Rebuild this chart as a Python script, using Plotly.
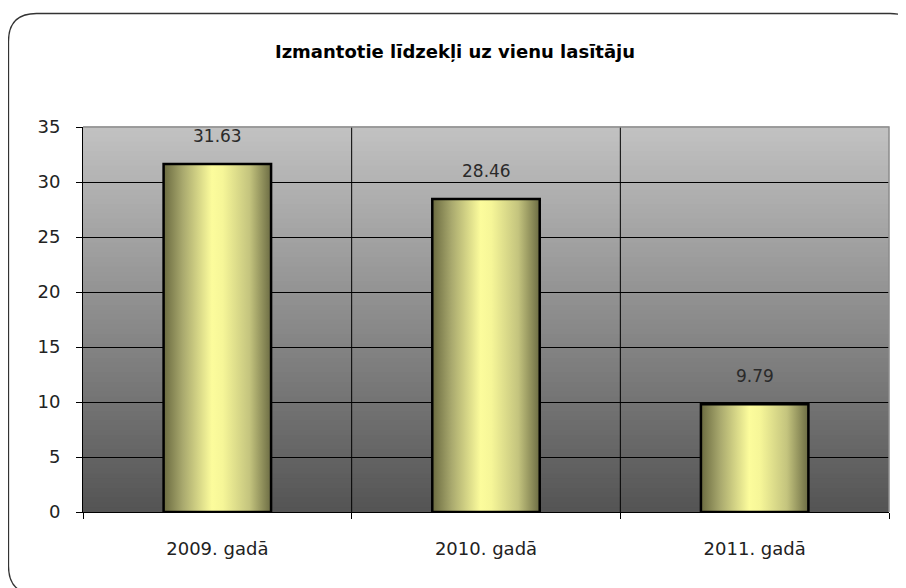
import plotly.graph_objects as go

categories = ["2009. gadā", "2010. gadā", "2011. gadā"]
values = [31.63, 28.46, 9.79]
value_labels = ["31.63", "28.46", "9.79"]
y_ticks = [0, 5, 10, 15, 20, 25, 30, 35]
title_text = "Izmantotie līdzekļi uz vienu lasītāju"

# page has an 8px body margin, so figure coords = page coords - 8
OFF = 8
W, H = 898, 580
L, R, T, B = 83 - OFF, 889 - OFF, 127 - OFF, 512 - OFF
FONT = "DejaVu Sans, Liberation Sans, Arial, sans-serif"
BAR_W = 0.4

def pxx(x):
    return (x - OFF - L) / (R - L)

def pxy(y):
    return (B - (y - OFF)) / (B - T)

fig = go.Figure()

bar_scale = [[0.0, "#6a6a40"], [0.18, "#a9a96e"], [0.45, "#fcfc9c"],
             [0.55, "#f6f698"], [0.8, "#c4c47e"], [1.0, "#6c6c44"]]

for i, v in enumerate(values):
    x0, x1 = i - BAR_W / 2, i + BAR_W / 2
    fig.add_trace(go.Scatter(
        x=[x0, x0, x1, x1, x0], y=[0, v, v, 0, 0],
        mode="lines", fill="toself",
        fillgradient=dict(type="horizontal", colorscale=bar_scale),
        line=dict(color="black", width=2.5),
        hoverinfo="skip", showlegend=False,
    ))

for i, (v, lab) in enumerate(zip(values, value_labels)):
    fig.add_annotation(x=i, y=v, text=lab, showarrow=False, yanchor="bottom",
                       yshift=16, font=dict(family=FONT, size=17, color="#2a2a2a"))

shapes = []
# plot-area gradient background (light gray top -> dark gray bottom)
n = 80
top_c, bot_c = (194, 194, 194), (84, 84, 84)
for k in range(n):
    f = (k + 0.5) / n
    c = tuple(int(round(bot_c[j] + (top_c[j] - bot_c[j]) * f)) for j in range(3))
    shapes.append(dict(type="rect", xref="x domain", yref="y domain",
                       x0=0, x1=1, y0=k / n, y1=(k + 1) / n + 0.002,
                       fillcolor="rgb(%d,%d,%d)" % c, line=dict(width=0), layer="below"))

# vertical separators between categories
for xb in [0.5, 1.5]:
    shapes.append(dict(type="line", xref="x", yref="y domain", x0=xb, x1=xb, y0=0, y1=1,
                       line=dict(color="black", width=1), layer="below"))

# gray top / right edge of plot area
shapes.append(dict(type="path", xref="paper", yref="paper", path="M 0,1 L 1,1 L 1,0",
                   line=dict(color="#8c8c8c", width=1.5), layer="above"))

# rounded outer border (extends past the right/bottom of the image)
bx0, bx1, by0, by1, r = 8.5, 918, 13.5, 594, 28
def P(x, y):
    return "%f,%f" % (pxx(x), pxy(y))
path = ("M " + P(bx0 + r, by0) + " L " + P(bx1 - r, by0) + " Q " + P(bx1, by0) + " " + P(bx1, by0 + r)
        + " L " + P(bx1, by1 - r) + " Q " + P(bx1, by1) + " " + P(bx1 - r, by1)
        + " L " + P(bx0 + r, by1) + " Q " + P(bx0, by1) + " " + P(bx0, by1 - r)
        + " L " + P(bx0, by0 + r) + " Q " + P(bx0, by0) + " " + P(bx0 + r, by0) + " Z")
shapes.append(dict(type="path", xref="paper", yref="paper", path=path,
                   line=dict(color="#333333", width=1.3), layer="above"))

fig.update_layout(
    width=W, height=H,
    margin=dict(l=L, r=W - R, t=T, b=H - B),
    paper_bgcolor="white", plot_bgcolor="rgba(0,0,0,0)",
    shapes=shapes,
    showlegend=False,
    title=dict(text="<b>" + title_text + "</b>", x=pxx(455), xref="paper", xanchor="center",
               y=1 - (52 - OFF) / H, yanchor="middle",
               font=dict(family=FONT, size=18, color="black")),
    xaxis=dict(
        range=[-0.5, 2.5], tickvals=[0, 1, 2], ticktext=categories,
        ticks="", showgrid=False, showline=True, linecolor="black", linewidth=1,
        zeroline=False, ticklabelstandoff=20,
        tickfont=dict(family=FONT, size=18, color="#222222"),
        minor=dict(tickvals=[-0.5, 0.5, 1.5, 2.5], ticks="outside", ticklen=6,
                   tickcolor="black", showgrid=False),
    ),
    yaxis=dict(
        range=[0, 35], tickvals=y_ticks, ticks="outside", ticklen=6, tickcolor="black",
        showgrid=True, gridcolor="black", gridwidth=1, zeroline=False,
        showline=True, linecolor="black", linewidth=1, ticklabelstandoff=12,
        tickfont=dict(family=FONT, size=18, color="#222222"),
    ),
)

fig.write_html("out.html")
